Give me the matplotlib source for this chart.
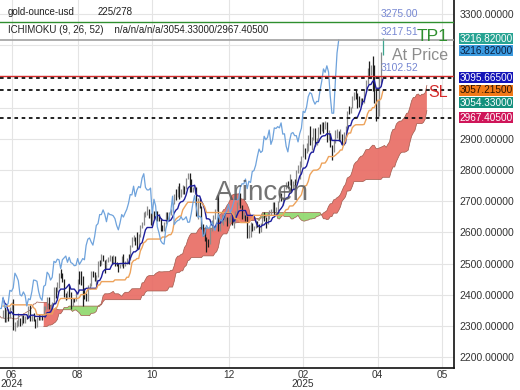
import numpy as np
import pandas as pd
import matplotlib
matplotlib.use("Agg")
import matplotlib.pyplot as plt
import matplotlib.transforms as mtransforms

plt.rcParams['font.family'] = ['Liberation Sans', 'DejaVu Sans']

# daily gold bars 18 Mar 2024 .. 11 Apr 2025 ; the first 53 only feed the indicators
HIDDEN = 53
close = [
    2160, 2158, 2186, 2181, 2166, 2172, 2178, 2194, 2230, 2233,
    2250, 2280, 2300, 2291, 2329, 2339, 2352, 2333, 2372, 2344, 2383, 2383, 2361, 2379, 2391, 2327, 2322, 2316, 2332, 2337, 2335, 2286,
    2320, 2304, 2302, 2323, 2314, 2309, 2346, 2360, 2336, 2357, 2385, 2376, 2415, 2425, 2420, 2379, 2329, 2334, 2350, 2361, 2338,
    2343, 2327,
    2350, 2327, 2355, 2375, 2294, 2311, 2316, 2325, 2303, 2333, 2319, 2329, 2328, 2360, 2322, 2334, 2319, 2298, 2327, 2326,
    2331, 2329, 2356, 2356, 2392, 2358, 2364, 2372, 2414, 2411, 2422, 2469, 2459, 2445, 2400, 2396, 2409, 2398, 2364, 2387, 2384, 2410, 2447,
    2446, 2443, 2410, 2390, 2382, 2427, 2431, 2472, 2465, 2447, 2456, 2507, 2503, 2514, 2512, 2484, 2512, 2518, 2524, 2504, 2520, 2503,
    2500, 2493, 2494, 2516, 2497, 2506, 2516, 2512, 2558, 2578, 2582, 2569, 2559, 2586, 2622, 2628, 2657, 2657, 2672, 2658, 2634,
    2662, 2657, 2656, 2653, 2644, 2622, 2608, 2630, 2657, 2649, 2662, 2674, 2693, 2721, 2720, 2748, 2715, 2736, 2747, 2743, 2774, 2788, 2744,
    2736, 2736, 2742, 2659, 2706, 2685, 2618, 2598, 2573, 2565, 2562, 2611, 2631, 2651, 2670, 2716, 2625, 2633, 2638, 2640, 2650,
    2640, 2643, 2650, 2632, 2633, 2660, 2694, 2718, 2680, 2648, 2652, 2646, 2587, 2594, 2622, 2612, 2617, 2634, 2621, 2606, 2624,
    2658, 2640, 2636, 2649, 2661, 2669, 2690, 2663, 2677, 2696, 2715, 2703, 2708, 2745, 2756, 2755, 2771, 2740, 2764, 2760, 2795, 2798,
    2815, 2843, 2867, 2856, 2861, 2908, 2897, 2904, 2928, 2882, 2898, 2935, 2933, 2939, 2935, 2951, 2915, 2916, 2876, 2858,
    2893, 2917, 2920, 2910, 2910, 2890, 2917, 2934, 2988, 2984, 3001, 3035, 3048, 3044, 3023, 3011, 3020, 3019, 3056, 3085, 3124,
    3113, 3134, 3114, 3037, 2982, 2982, 3083, 3175, 3216.82,
]
high = [
    2164, 2163, 2188, 2223, 2183, 2176, 2184, 2196, 2236, 2236,
    2266, 2282, 2305, 2304, 2330, 2354, 2365, 2354, 2378, 2432, 2385, 2395, 2392, 2384, 2418, 2391, 2334, 2338, 2353, 2352, 2352, 2336,
    2326, 2325, 2324, 2331, 2326, 2323, 2351, 2378, 2366, 2361, 2389, 2398, 2422, 2450, 2432, 2422, 2384, 2340, 2356, 2365, 2361,
    2351, 2360,
    2354, 2353, 2359, 2377, 2387, 2314, 2318, 2342, 2326, 2336, 2335, 2332, 2336, 2365, 2368, 2336, 2342, 2322, 2330, 2339,
    2339, 2335, 2365, 2363, 2392, 2392, 2370, 2377, 2424, 2424, 2440, 2470, 2483, 2469, 2449, 2406, 2412, 2431, 2408, 2390, 2390, 2412, 2451,
    2477, 2477, 2461, 2420, 2404, 2430, 2436, 2475, 2477, 2472, 2462, 2509, 2510, 2531, 2528, 2511, 2514, 2520, 2527, 2525, 2528, 2525,
    2505, 2503, 2500, 2524, 2529, 2508, 2518, 2529, 2560, 2586, 2590, 2584, 2600, 2595, 2625, 2633, 2664, 2670, 2685, 2674, 2662,
    2673, 2667, 2667, 2670, 2660, 2645, 2625, 2633, 2664, 2666, 2665, 2676, 2695, 2722, 2740, 2749, 2758, 2738, 2751, 2749, 2775, 2790, 2790,
    2772, 2746, 2750, 2745, 2711, 2709, 2686, 2626, 2618, 2584, 2578, 2616, 2639, 2656, 2674, 2721, 2721, 2643, 2658, 2646, 2666,
    2650, 2650, 2657, 2656, 2645, 2669, 2696, 2721, 2726, 2687, 2664, 2654, 2652, 2624, 2632, 2630, 2620, 2639, 2637, 2627, 2629,
    2663, 2664, 2650, 2665, 2671, 2674, 2697, 2697, 2681, 2702, 2725, 2726, 2713, 2747, 2763, 2764, 2786, 2772, 2766, 2770, 2800, 2817,
    2830, 2845, 2882, 2870, 2886, 2911, 2942, 2906, 2935, 2933, 2904, 2938, 2947, 2955, 2953, 2956, 2954, 2928, 2917, 2880,
    2900, 2928, 2930, 2926, 2930, 2915, 2922, 2940, 2990, 3004, 3002, 3038, 3050, 3057, 3047, 3036, 3030, 3032, 3059, 3087, 3128,
    3149, 3136, 3167, 3136, 3055, 3023, 3100, 3177, 3224,
]
low = [
    2146, 2146, 2147, 2169, 2155, 2159, 2167, 2175, 2190, 2228,
    2228, 2244, 2275, 2284, 2268, 2321, 2331, 2319, 2325, 2326, 2324, 2359, 2355, 2355, 2371, 2320, 2292, 2312, 2310, 2326, 2325, 2285,
    2277, 2299, 2291, 2298, 2309, 2303, 2306, 2344, 2333, 2330, 2354, 2372, 2374, 2411, 2407, 2374, 2326, 2325, 2333, 2340, 2334,
    2326, 2314,
    2314, 2316, 2325, 2352, 2287, 2285, 2298, 2301, 2301, 2302, 2310, 2309, 2321, 2326, 2316, 2316, 2316, 2293, 2298, 2319,
    2318, 2318, 2327, 2352, 2353, 2353, 2353, 2358, 2370, 2391, 2409, 2421, 2455, 2440, 2393, 2384, 2385, 2394, 2353, 2365, 2376, 2381, 2410,
    2434, 2432, 2364, 2387, 2381, 2381, 2418, 2429, 2457, 2444, 2432, 2456, 2492, 2496, 2508, 2470, 2483, 2504, 2507, 2497, 2500, 2493,
    2491, 2472, 2487, 2491, 2485, 2493, 2500, 2500, 2510, 2554, 2571, 2560, 2546, 2546, 2586, 2614, 2625, 2649, 2655, 2645, 2624,
    2624, 2643, 2640, 2635, 2636, 2605, 2604, 2603, 2627, 2638, 2640, 2654, 2665, 2692, 2704, 2714, 2708, 2712, 2723, 2723, 2739, 2770, 2730,
    2728, 2728, 2724, 2652, 2643, 2679, 2610, 2589, 2572, 2537, 2554, 2563, 2605, 2627, 2643, 2670, 2605, 2603, 2629, 2625, 2636,
    2621, 2630, 2632, 2624, 2614, 2632, 2655, 2689, 2677, 2643, 2645, 2636, 2583, 2583, 2584, 2603, 2609, 2614, 2617, 2597, 2602,
    2624, 2637, 2615, 2627, 2643, 2656, 2665, 2657, 2662, 2668, 2696, 2699, 2689, 2706, 2740, 2741, 2752, 2730, 2738, 2748, 2757, 2790,
    2772, 2810, 2840, 2834, 2853, 2860, 2880, 2864, 2895, 2876, 2880, 2891, 2915, 2924, 2919, 2930, 2890, 2895, 2873, 2833,
    2858, 2886, 2903, 2894, 2896, 2880, 2880, 2906, 2932, 2978, 2982, 2998, 3023, 3028, 2999, 3001, 3007, 3012, 3015, 3055, 3076,
    3100, 3105, 3054, 3015, 2957, 2970, 2972, 3080, 3170,
]

month_bar = [5, 44, 88, 133, 177, 221, 259]
month_lbl = ["06\n2024", "08", "10", "12", "02\n2025", "04", "05"]

tp1 = 3275.00
at_price = 3217.51
sl = 3102.52
tag_values = [3216.82, 3216.82, 3095.665, 3057.215, 3054.33, 2967.405]
dotted_levels = [3095.665, 3057.215, 2967.405]
covered_ticks = [3000, 3100, 3200]   # scale labels hidden under the value tags

# ichimoku (9, 26, 52)
df = pd.DataFrame({"high": high, "low": low, "close": close})
def mid(n):
    return (df["high"].rolling(n).max() + df["low"].rolling(n).min()) / 2
tenkan = mid(9)
kijun = mid(26)
span_a = (tenkan + kijun) / 2
span_b = mid(52)

x = np.arange(len(df)) - HIDDEN
opn = df["close"].shift(1).fillna(df["close"])
up = df["close"] >= opn
show = x >= 0

fig = plt.figure(figsize=(5.2, 3.9), dpi=100)
ax = fig.add_axes([0, 22 / 390, 454 / 520, 368 / 390])

# cloud, drawn 26 bars ahead
xs = x + 26
a = span_a.values
b = span_b.values
ax.fill_between(xs, a, b, where=a >= b, interpolate=True, color="#e86a62", alpha=0.9, lw=0, zorder=1)
ax.fill_between(xs, a, b, where=a < b, interpolate=True, color="#8ed86a", alpha=0.9, lw=0, zorder=1)
ax.plot(xs, a, color="#a05a4c", lw=0.5, zorder=1.2)
ax.plot(xs, b, color="#a05a4c", lw=0.5, zorder=1.2)

# price bars
cols = np.where(up, "#8a8a8a", "#1e1e1e").astype(object)
cols[-1] = "#3ea58f"
ax.vlines(x[show], df["low"][show], df["high"][show], colors=list(cols[show]), lw=0.9, zorder=2)

# lines
ax.plot(x[show], tenkan[show], color="#1d1d9c", lw=1.0, zorder=3)
ax.plot(x[show], kijun[show], color="#eda35c", lw=1.0, zorder=3)
ax.plot(x[show] - 26, df["close"][show], color="#6fa3dc", lw=0.9, zorder=3)

# trade levels
ax.axhline(tp1, color="#2f8f2f", lw=1.0, zorder=4)
ax.axhline(at_price, color="#a0a0a0", lw=1.2, zorder=4)
ax.axhline(sl, color="#d42a2a", lw=1.0, zorder=4)
for lv in dotted_levels:
    ax.axhline(lv, color="#111111", lw=1.3, ls=(0, (2, 2)), zorder=4)

last = x[-1]
for val in (tp1, at_price, sl):
    ax.annotate(f"{val:.2f}", xy=(last - 1.5, val), xytext=(0, 2), textcoords="offset points",
                ha="left", va="bottom", fontsize=7.5, color="#7687d2", zorder=5)
rt = mtransforms.blended_transform_factory(ax.transAxes, ax.transData)
for txt, val, col, fs, dy in [("TP1", tp1, "#2f8f2f", 12.5, -5.5), ("At Price", at_price, "#8c8c8c", 11.5, -6),
                              ("SL", sl, "#d42a2a", 11.5, -7)]:
    ax.annotate(txt, xy=(0.987, val), xycoords=rt, xytext=(0, dy), textcoords="offset points",
                ha="right", va="top", fontsize=fs, color=col, zorder=5)

# right side value tags
tag_style = [("#27a392", "white", 0.8), ("#3b9be0", "#0a1f40", -7.6), ("#1414b8", "white", 0),
             ("#f27a18", "#2a1200", -0.3), ("#14907d", "white", -8.6), ("#cf1559", "white", 0)]
for val, (fc, tc, dy) in zip(tag_values, tag_style):
    ax.annotate(f"{val:.5f}", xy=(1, val), xycoords=rt, xytext=(4, dy), textcoords="offset points",
                ha="left", va="center", fontsize=7.2, color=tc, zorder=6, annotation_clip=False,
                bbox=dict(boxstyle="square,pad=0.05", fc=fc, ec="none"))

# header + watermark
ax.text(0.017, 0.967, "gold-ounce-usd", transform=ax.transAxes, fontsize=7, color="#222", va="center")
ax.text(0.214, 0.967, "225/278", transform=ax.transAxes, fontsize=7, color="#222", va="center")
ax.text(0.017, 0.918, "ICHIMOKU (9, 26, 52)    n/a/n/a/n/a/3054.33000/2967.40500",
        transform=ax.transAxes, fontsize=7, color="#222", va="center")
ax.text(0.577, 0.475, "Arincen", transform=ax.transAxes, fontsize=20, color="#5a5a5a",
        alpha=0.85, ha="center", va="center", zorder=4)

ax.set_xlim(-1.8, 266)
ax.set_ylim(2165, 3345)
ax.yaxis.tick_right()
ax.set_yticks(np.arange(2200, 3301, 100))
ax.yaxis.set_major_formatter(plt.FuncFormatter(
    lambda v, p: "" if round(v) in covered_ticks else f"{v:.5f}"))
ax.set_xticks(month_bar)
ax.set_xticklabels(month_lbl, linespacing=0.85)
ax.tick_params(axis="y", length=0, pad=4, labelsize=7.5, labelcolor="#333")
ax.tick_params(axis="x", length=0, pad=1.5, labelsize=7.3, labelcolor="#333")
ax.grid(color="#e4e4e4", lw=0.8)
ax.set_axisbelow(True)
for s in ("left", "top"):
    ax.spines[s].set_visible(False)
for s in ("right", "bottom"):
    ax.spines[s].set_color("#111")
    ax.spines[s].set_linewidth(1.2)

fig.savefig("out.png", dpi=100)
